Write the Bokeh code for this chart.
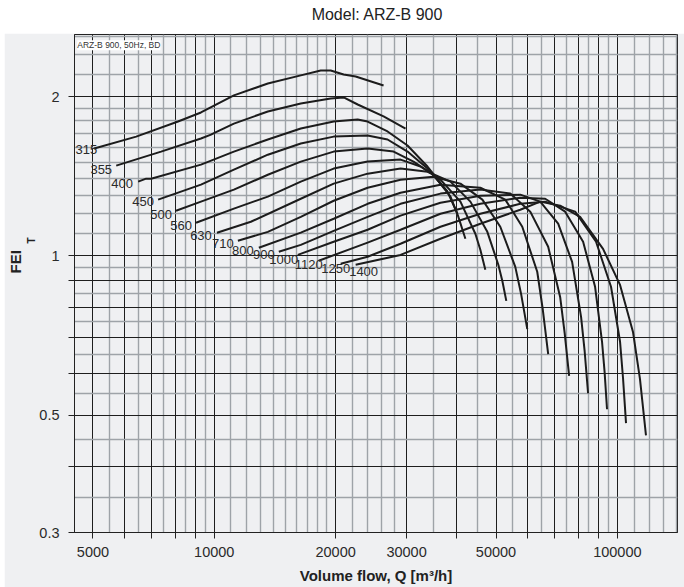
from bokeh.plotting import figure
from bokeh.models import FixedTicker, Label, Div, Title
from bokeh.layouts import column
from bokeh.embed import file_html
from bokeh.resources import INLINE
from bokeh.core.properties import value

# ---------------- data ----------------
sizes = ["315", "355", "400", "450", "500", "560", "630", "710",
         "800", "900", "1000", "1120", "1250", "1400"]

q_315 = [5037, 6401, 8130, 9268, 11186, 13579, 16392, 18369, 19443, 20941, 22425, 26303]
f_315 = [1.595, 1.680, 1.794, 1.866, 2.010, 2.117, 2.193, 2.240, 2.240, 2.202, 2.183, 2.099]

q_355 = [5711, 7379, 9268, 9813, 10039, 11186, 13579, 16392, 19443, 20941, 22685, 26303, 29819]
f_355 = [1.481, 1.574, 1.666, 1.695, 1.710, 1.778, 1.874, 1.941, 1.983, 1.992, 1.932, 1.834, 1.740]

q_400 = [6474, 6774, 6970, 9268, 11186, 13579, 16392, 19782, 22685, 24011, 26909, 30157, 33804, 37884]
f_400 = [1.381, 1.399, 1.399, 1.487, 1.574, 1.659, 1.740, 1.794, 1.810, 1.794, 1.718, 1.616, 1.475, 1.322]

q_450 = [7255, 9268, 11186, 13579, 16392, 19782, 24011, 26909, 30157, 33804, 37884, 40112]
f_450 = [1.277, 1.363, 1.455, 1.553, 1.630, 1.680, 1.688, 1.659, 1.574, 1.462, 1.322, 1.201]

q_500 = [8038, 9268, 11186, 13579, 16392, 19782, 24011, 27847, 31210, 34984, 38544, 40230, 41976]
f_500 = [1.217, 1.266, 1.334, 1.423, 1.507, 1.574, 1.595, 1.574, 1.507, 1.423, 1.294, 1.191, 1.077]

q_560 = [9010, 11186, 13579, 16392, 19782, 24011, 28980, 32480, 36404, 40803, 44432, 45718, 47043]
f_560 = [1.155, 1.228, 1.294, 1.381, 1.462, 1.507, 1.520, 1.475, 1.393, 1.266, 1.101, 1.027, 0.941]

q_630 = [10155, 12324, 16392, 19782, 24011, 28980, 33804, 38544, 43191, 47577, 50660, 51830, 53027]
f_630 = [1.106, 1.160, 1.282, 1.369, 1.430, 1.462, 1.442, 1.381, 1.266, 1.110, 0.962, 0.897, 0.822]

q_710 = [11444, 13579, 16392, 19782, 24011, 28980, 34984, 40803, 46248, 51236, 55821, 57760, 59777]
f_710 = [1.068, 1.110, 1.185, 1.271, 1.345, 1.393, 1.411, 1.369, 1.277, 1.135, 0.953, 0.844, 0.727]

q_800 = [12898, 16392, 19782, 24011, 28980, 36404, 45718, 52723, 58091, 63276, 65280, 67360]
f_800 = [1.036, 1.106, 1.175, 1.254, 1.316, 1.363, 1.345, 1.277, 1.135, 0.933, 0.794, 0.652]

q_900 = [14456, 16392, 19782, 24011, 28980, 36404, 45718, 54250, 60805, 67360, 72124, 74000, 75920]
f_900 = [1.018, 1.049, 1.115, 1.185, 1.254, 1.311, 1.334, 1.311, 1.212, 1.040, 0.836, 0.715, 0.593]

q_1000 = [16111, 19782, 24011, 28980, 36404, 45718, 57426, 64365, 71315, 77226, 81296, 82950, 84600]
f_1000 = [1.004, 1.063, 1.120, 1.191, 1.260, 1.299, 1.305, 1.266, 1.150, 0.974, 0.766, 0.661, 0.550]

q_1120 = [18159, 24011, 28980, 36404, 45718, 57426, 66222, 74210, 82236, 88059, 91620, 92980, 94274]
f_1120 = [0.979, 1.059, 1.120, 1.201, 1.254, 1.288, 1.282, 1.212, 1.063, 0.874, 0.688, 0.603, 0.513]

q_1250 = [20587, 24011, 28980, 36404, 45718, 57426, 66222, 78572, 88547, 96447, 101555, 103300, 105074]
f_1250 = [0.966, 0.996, 1.054, 1.135, 1.201, 1.254, 1.266, 1.212, 1.063, 0.874, 0.688, 0.587, 0.483]

q_1400 = [22425, 28980, 36404, 45718, 57426, 64365, 72124, 80830, 92149, 101555, 109346, 113800, 117761]
f_1400 = [0.962, 1.004, 1.077, 1.150, 1.222, 1.266, 1.244, 1.185, 1.031, 0.881, 0.718, 0.585, 0.458]

label_q = [4813, 5243, 5908, 6661, 7379, 8272, 9268, 10508, 11776, 13274, 14876, 17157, 20011, 23470]
label_f = [1.587, 1.455, 1.369, 1.266, 1.196, 1.140, 1.091, 1.054, 1.022, 1.004, 0.983, 0.962, 0.945, 0.933]

x_major = [5000, 6000, 7000, 8000, 9000, 10000, 20000, 30000, 40000, 50000,
           60000, 70000, 80000, 90000, 100000]
x_minor = [4500, 5500, 6500, 7500, 8500, 9500, 11000, 12000, 13000, 14000, 15000,
           16000, 17000, 18000, 19000, 22000, 24000, 26000, 28000, 35000, 45000,
           55000, 65000, 75000, 85000, 95000, 110000, 120000, 130000, 140000]
x_labels = {5000: "5000", 10000: "10000", 20000: "20000", 30000: "30000",
            50000: "50000", 100000: "100000"}

y_major = [0.3, 0.4, 0.5, 0.6, 0.7, 0.8, 0.9, 1.0, 2.0]
y_minor = [0.35, 0.45, 0.55, 0.65, 0.75, 0.85, 0.95, 1.1, 1.2, 1.3, 1.4, 1.5,
           1.6, 1.7, 1.8, 1.9, 2.2, 2.4, 2.6]
y_labels = {0.3: "0.3", 0.5: "0.5", 1.0: "1", 2.0: "2"}

series_q = [q_315, q_355, q_400, q_450, q_500, q_560, q_630, q_710, q_800,
            q_900, q_1000, q_1120, q_1250, q_1400]
series_f = [f_315, f_355, f_400, f_450, f_500, f_560, f_630, f_710, f_800,
            f_900, f_1000, f_1120, f_1250, f_1400]

# ---------------- styling ----------------
BG = "#eff0f2"
FONT = "Liberation Sans"
INK = "#1c1c1c"

p = figure(width=680, height=554, x_axis_type="log", y_axis_type="log",
           x_range=(4500, 141000), y_range=(0.3, 2.62),
           output_backend="svg", toolbar_location=None,
           min_border_left=65, min_border_right=7, min_border_top=1,
           min_border_bottom=55, background_fill_color=BG,
           border_fill_color=BG, outline_line_color="#222222",
           margin=(0, 0, 0, 4))

p.xaxis.ticker = FixedTicker(ticks=x_major, minor_ticks=x_minor)
p.yaxis.ticker = FixedTicker(ticks=y_major, minor_ticks=y_minor)
p.xaxis.major_label_overrides = {t: x_labels.get(t, "") for t in x_major}
p.yaxis.major_label_overrides = {t: y_labels.get(t, "") for t in y_major}

for ax in (p.xaxis, p.yaxis):
    ax.major_label_text_font = FONT
    ax.major_label_text_font_size = "14.5px"
    ax.major_label_text_color = "#2a2a2a"
    ax.axis_line_color = "#222222"
    ax.major_tick_line_color = "#222222"
    ax.major_tick_in = 0
    ax.major_tick_out = 6
    ax.minor_tick_in = 0
    ax.minor_tick_out = 0
    ax.axis_label_text_font = FONT
    ax.axis_label_text_font_style = "bold"
    ax.axis_label_text_font_size = "15px"
    ax.axis_label_text_color = "#222222"

p.xaxis.major_label_standoff = 8
p.xaxis.axis_label = "Volume flow, Q [m³/h]"
p.xaxis.axis_label_standoff = 7
p.yaxis.major_label_standoff = 9

for g in (p.xgrid, p.ygrid):
    g.grid_line_color = "#1e1e1e"
    g.grid_line_width = 1
    g.minor_grid_line_color = "#9ea3a8"
    g.minor_grid_line_width = 1.4

for qs, fs in zip(series_q, series_f):
    p.line(qs, fs, line_color=INK, line_width=2)

p.text(x=label_q, y=label_f, text=sizes, text_font=value(FONT),
       text_font_size="13px", text_align="center", text_baseline="middle",
       text_color="#2a2a2a")

p.add_layout(Label(x=4572, y=2.555, text="ARZ-B 900, 50Hz, BD",
                   text_font=FONT, text_font_size="8.5px", text_color="#333333",
                   text_align="left", text_baseline="top",
                   background_fill_color="white"))

# y-axis title "FEI" with subscript "T", as two side titles
p.add_layout(Title(text="T", align="left", offset=289, standoff=0,
                   text_font=FONT, text_font_style="bold",
                   text_font_size="10px", text_color="#222222"), "left")
p.add_layout(Title(text="FEI", align="left", offset=259, standoff=0,
                   text_font=FONT, text_font_style="bold",
                   text_font_size="15px", text_color="#222222"), "left")

title = Div(text='<div style="box-sizing:border-box;width:684px;padding-left:70px;'
                 'padding-top:7px;text-align:center;font-family:\'Liberation Sans\';'
                 'font-size:16px;line-height:16px;color:#222;">Model: ARZ-B 900</div>',
            width=684, height=33, margin=(0, 0, 0, 0))

layout = column(title, p, spacing=0)
open("out.html", "w").write(file_html(layout, INLINE))
